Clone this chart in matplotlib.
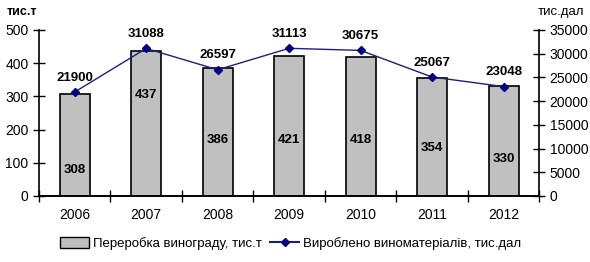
import matplotlib.pyplot as plt
from matplotlib.patches import Patch
from matplotlib.lines import Line2D

plt.rcParams['font.family'] = ['Liberation Sans', 'DejaVu Sans']

years = ['2006', '2007', '2008', '2009', '2010', '2011', '2012']
grapes = [308, 437, 386, 421, 418, 354, 330]          # тис.т
wine = [21900, 31088, 26597, 31113, 30675, 25067, 23048]  # тис.дал

# y position (left axis units) of the labels inside bars
bar_label_y = [78, 304, 169, 169, 169, 145, 111]

fig = plt.figure(figsize=(5.9, 2.62), dpi=100)
ax = fig.add_axes([0.066, 0.252, 0.848, 0.634])
ax2 = ax.twinx()

x = list(range(len(years)))
ax.bar(x, grapes, width=0.42, color='#c0c0c0', edgecolor='black', linewidth=1.2, zorder=2)
for xi, v, ly in zip(x, grapes, bar_label_y):
    ax.text(xi, ly, str(v), ha='center', va='center', fontsize=9.5, fontweight='bold')

ax2.plot(x, wine, color='#1f1f7a', linewidth=1, marker='D', markersize=4.5,
         markerfacecolor='#000080', markeredgecolor='#000080', zorder=3)
for xi, v in zip(x, wine):
    ax2.annotate(str(v), (xi, v), xytext=(0, 6), textcoords='offset points',
                 ha='center', va='bottom', fontsize=9.5, fontweight='bold')

ax.set_xlim(-0.5, len(years) - 0.5)
ax.set_ylim(0, 500)
ax2.set_ylim(0, 35000)
ax.set_yticks(range(0, 501, 100))
ax2.set_yticks(range(0, 35001, 5000))
ax.set_xticks([i - 0.5 for i in range(len(years) + 1)])
ax.set_xticklabels([])
ax.set_xticks(x, minor=True)
ax.set_xticklabels(years, minor=True)
ax.tick_params(axis='x', which='minor', length=0, pad=9, labelsize=10)
ax.tick_params(axis='x', which='major', direction='inout', length=9, width=1)
ax.tick_params(axis='y', direction='inout', length=8, width=1, labelsize=10)
ax2.tick_params(axis='y', direction='inout', length=8, width=1, labelsize=10)

for a in (ax, ax2):
    a.spines['top'].set_visible(False)
    for s in a.spines.values():
        s.set_linewidth(1.2)
ax2.spines['left'].set_visible(False)
ax.spines['right'].set_visible(False)

fig.text(0.012, 0.955, 'тис.т', fontsize=9, fontweight='bold', ha='left', va='center')
fig.text(0.99, 0.955, 'тис.дал', fontsize=9.5, ha='right', va='center')

handles = [Patch(facecolor='#c0c0c0', edgecolor='black', linewidth=1),
           Line2D([0], [0], color='#1f1f7a', marker='D', markersize=4.5,
                  markerfacecolor='#000080', markeredgecolor='#000080')]
fig.legend(handles, ['Переробка винограду, тис.т', 'Вироблено виноматеріалів, тис.дал'],
           loc='center', bbox_to_anchor=(0.493, 0.07), ncol=2, frameon=False,
           fontsize=9.5, handlelength=2.2, handleheight=0.8, columnspacing=0.6,
           handletextpad=0.3)

plt.savefig('out.png', dpi=100)
